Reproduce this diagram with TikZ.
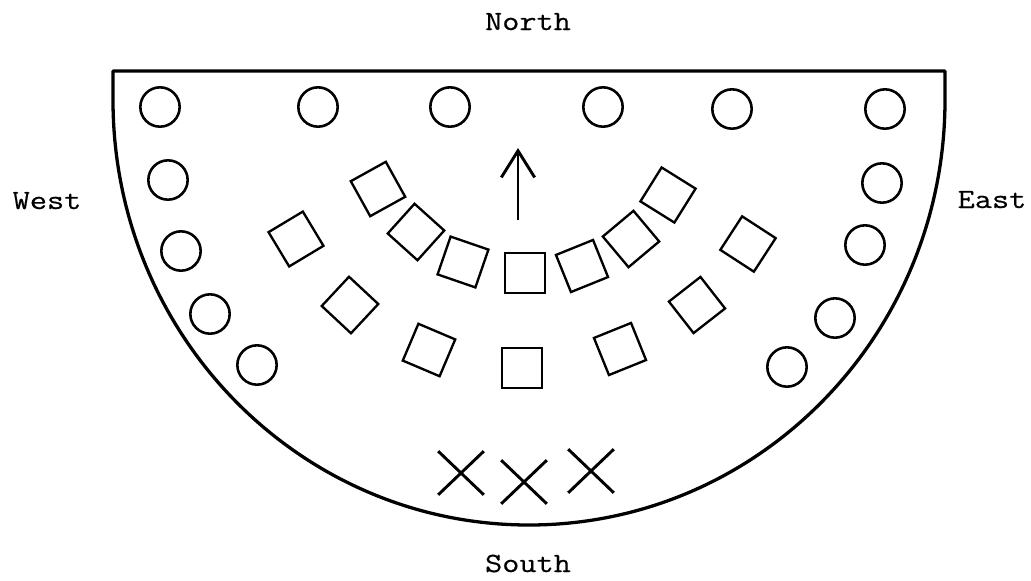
\documentclass[tikz,border=0pt]{standalone}
\usepackage{fontspec}
\newfontfamily\compassfont[FakeStretch=1.2,FakeBold=0.5]{Latin Modern Mono}
\usepackage{tikz}
\usetikzlibrary{arrows.meta,shapes.misc}
\definecolor{ink}{RGB}{0,0,0}

\begin{document}
\begin{tikzpicture}[x=0.03cm,y=-0.03cm,
  rim/.style={ink,line width=2.8pt,line join=round},
  ring/.style={circle,draw=ink,line width=2.2pt,minimum size=1.18cm,inner sep=0pt},
  block/.style={rectangle,draw=ink,line width=2pt,minimum size=1.2cm,inner sep=0pt},
  cross/.style={cross out,draw=ink,line width=2.5pt,minimum width=1.28cm,minimum height=1.22cm,inner sep=0pt},
  compass/.style={font=\fontsize{23.7}{28}\selectfont\compassfont,anchor=base,inner sep=0pt}]
  \useasboundingbox (0,0) rectangle (1031,580);
  % outline of the room
  \draw[rim] (113,71) -- (945,71) -- (945,100)
    arc[start angle=0,end angle=180,x radius=416,y radius=425] -- cycle;
  % circles along the rim
  \node[ring] (top1) at (160,107) {};
  \node[ring] (top2) at (318,107) {};
  \node[ring] (top3) at (450,107) {};
  \node[ring] (top4) at (603,107) {};
  \node[ring] (top5) at (732,109) {};
  \node[ring] (top6) at (885,109) {};
  \node[ring] (west1) at (168,180) {};
  \node[ring] (west2) at (181,251) {};
  \node[ring] (west3) at (210,314) {};
  \node[ring] (west4) at (257,365) {};
  \node[ring] (east1) at (882,183) {};
  \node[ring] (east2) at (865,245) {};
  \node[ring] (east3) at (835,318) {};
  \node[ring] (east4) at (787,367) {};
  % inner row of squares
  \node[block,rotate=29] (inner1) at (378,189) {};
  \node[block,rotate=48] (inner2) at (416,232) {};
  \node[block,rotate=-19] (inner3) at (463,262) {};
  \node[block] (inner4) at (525,273) {};
  \node[block,rotate=22] (inner5) at (582,266) {};
  \node[block,rotate=40] (inner6) at (631,239) {};
  \node[block,rotate=-32] (inner7) at (668,195) {};
  % outer row of squares
  \node[block,rotate=31] (outer1) at (296,239) {};
  \node[block,rotate=47] (outer2) at (350,305) {};
  \node[block,rotate=-23] (outer3) at (429,350) {};
  \node[block] (outer4) at (522,368) {};
  \node[block,rotate=22] (outer5) at (620,349) {};
  \node[block,rotate=38] (outer6) at (697,305) {};
  \node[block,rotate=-33] (outer7) at (748,244) {};
  % arrow
  \coordinate (foot) at (518,220);
  \coordinate (tip) at (518,148);
  \draw[ink,line width=2.5pt,-{Straight Barb[length=0.8cm,width=1cm]}] (foot) -- (tip);
  % crosses
  \node[cross] (cross1) at (461,473) {};
  \node[cross] (cross2) at (524,482) {};
  \node[cross] (cross3) at (591,471) {};
  % compass points
  \node[compass] (north) at (528,30) {North};
  \node[compass] (west) at (47,209) {West};
  \node[compass] (east) at (992,208) {East};
  \node[compass] (south) at (528,572) {South};
\end{tikzpicture}
\end{document}
